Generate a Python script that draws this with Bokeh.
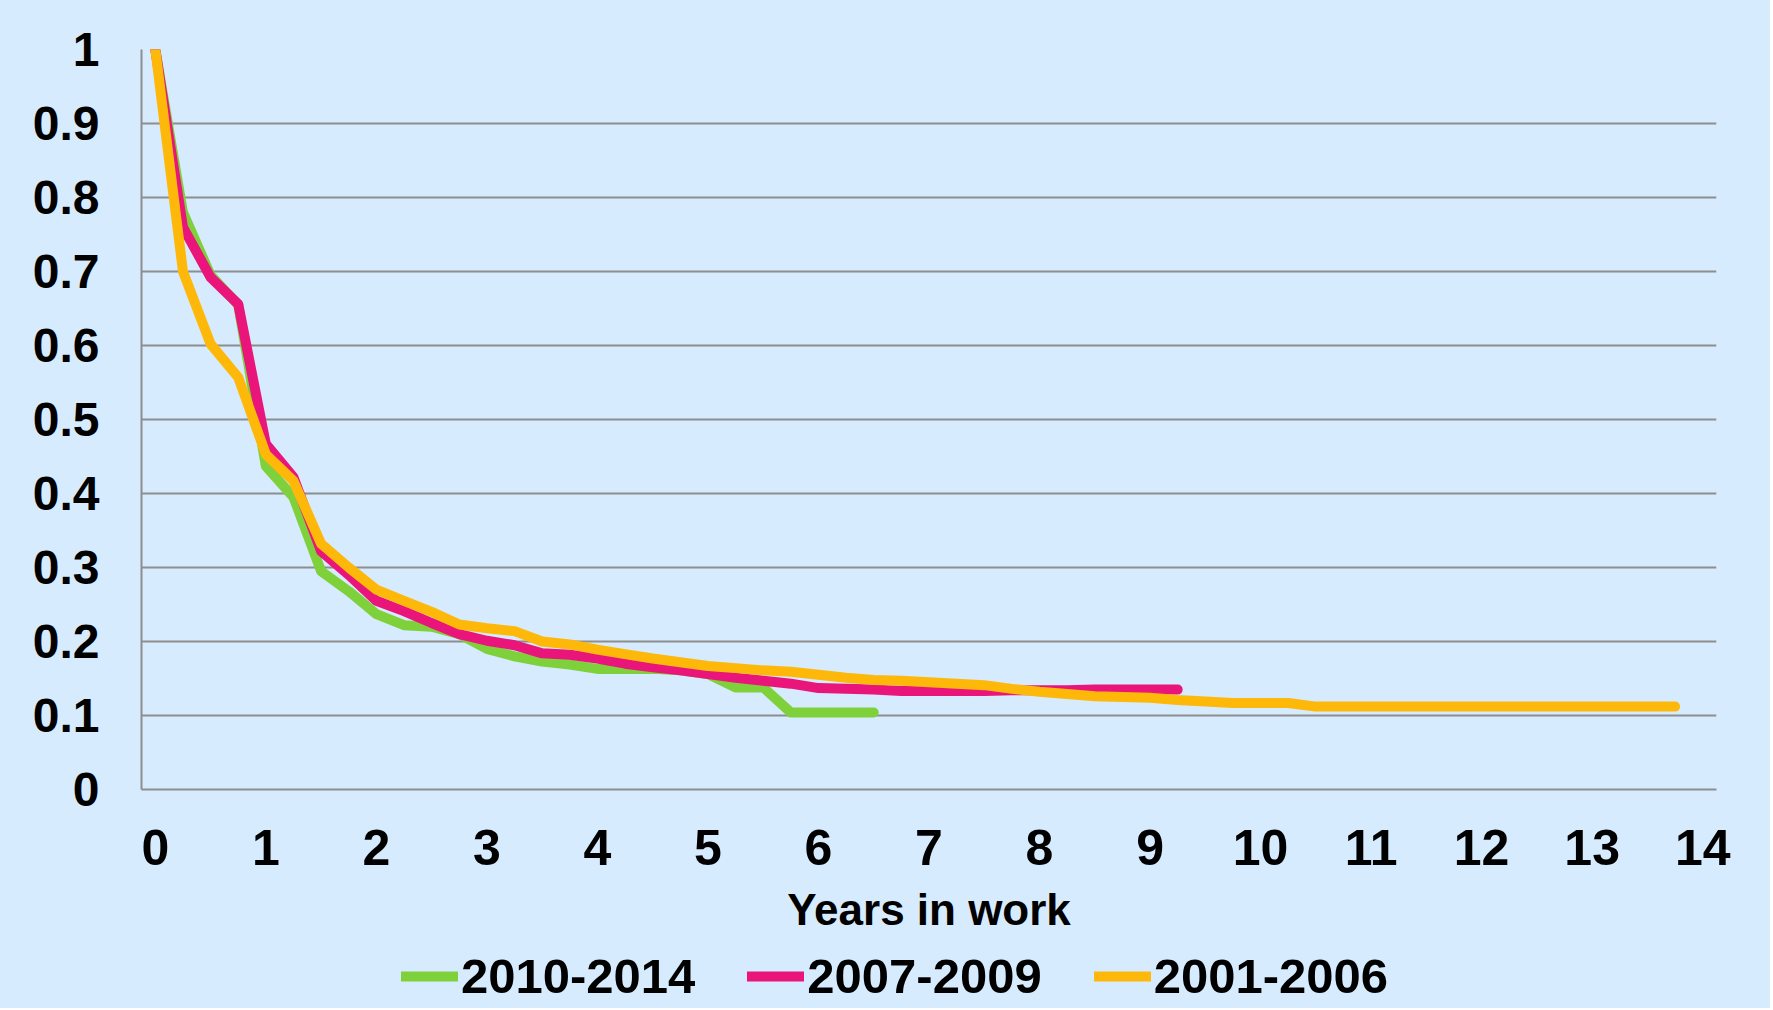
from bokeh.plotting import figure
from bokeh.models import Range1d, FixedTicker, Legend, LegendItem
from bokeh.layouts import column
from bokeh.embed import file_html
from bokeh.resources import INLINE

# ---- data ----
x_quarters = [i * 0.25 for i in range(56)]

green_2010_2014 = [1.0, 0.78, 0.695, 0.655, 0.437, 0.395, 0.295, 0.268, 0.237, 0.222,
                   0.22, 0.21, 0.19, 0.18, 0.173, 0.169, 0.163, 0.163, 0.163, 0.161,
                   0.156, 0.138, 0.138, 0.104, 0.104, 0.104, 0.104]

pink_2007_2009 = [1.0, 0.76, 0.692, 0.656, 0.467, 0.422, 0.322, 0.29, 0.255, 0.241,
                  0.225, 0.21, 0.201, 0.195, 0.184, 0.182, 0.177, 0.17, 0.165, 0.161,
                  0.156, 0.151, 0.147, 0.143, 0.137, 0.136, 0.135, 0.133, 0.133, 0.133,
                  0.133, 0.134, 0.134, 0.134, 0.135, 0.135, 0.135, 0.135]

yellow_2001_2006 = [1.0, 0.70, 0.602, 0.557, 0.453, 0.417, 0.332, 0.30, 0.27, 0.255,
                    0.24, 0.223, 0.218, 0.214, 0.200, 0.196, 0.189, 0.183, 0.177, 0.172,
                    0.167, 0.164, 0.161, 0.159, 0.155, 0.151, 0.148, 0.147, 0.145, 0.143,
                    0.141, 0.136, 0.132, 0.129, 0.126, 0.125, 0.124, 0.121, 0.119, 0.117,
                    0.117, 0.117, 0.112, 0.112, 0.112, 0.112, 0.112, 0.112, 0.112, 0.112,
                    0.112, 0.112, 0.112, 0.112, 0.112, 0.112]

series_names = ["2010-2014", "2007-2009", "2001-2006"]
series_values = [green_2010_2014, pink_2007_2009, yellow_2001_2006]
series_colors = ["#7FD13B", "#EA157A", "#FEB80A"]

x_ticks = list(range(0, 15))
y_ticks = [0, 0.1, 0.2, 0.3, 0.4, 0.5, 0.6, 0.7, 0.8, 0.9, 1.0]
y_tick_labels = ["0", "0.1", "0.2", "0.3", "0.4", "0.5", "0.6", "0.7", "0.8", "0.9", "1"]
x_title = "Years in work"

# ---- main figure ----
BG = "#D6EBFD"
GRID = "#8E8E8E"
FONT = "Liberation Sans"
W = 1770

p = figure(width=W, height=944, output_backend="svg", toolbar_location=None,
           x_range=Range1d(-0.125, 14.125), y_range=Range1d(0, 1),
           min_border_left=141, min_border_right=54, min_border_top=49,
           min_border_bottom=155)
p.background_fill_color = BG
p.border_fill_color = BG
p.outline_line_color = None

for name, vals, col in zip(series_names, series_values, series_colors):
    p.line(x_quarters[:len(vals)], vals, line_color=col, line_width=10,
           line_cap="round", line_join="round")

# grid
p.xgrid.grid_line_color = None
p.ygrid.ticker = FixedTicker(ticks=y_ticks)
p.ygrid.grid_line_color = GRID
p.ygrid.grid_line_width = 2

# axes
xa = p.xaxis[0]
xa.ticker = FixedTicker(ticks=x_ticks)
xa.axis_line_color = GRID
xa.axis_line_width = 2
xa.major_tick_line_color = None
xa.minor_tick_line_color = None
xa.major_label_text_font = FONT
xa.major_label_text_font_style = "bold"
xa.major_label_text_font_size = "50px"
xa.major_label_text_color = "black"
xa.major_label_standoff = 34
xa.axis_label = x_title
xa.axis_label_text_font = FONT
xa.axis_label_text_font_style = "bold"
xa.axis_label_text_font_size = "44px"
xa.axis_label_text_color = "black"
xa.axis_label_standoff = 17

ya = p.yaxis[0]
ya.ticker = FixedTicker(ticks=y_ticks)
ya.major_label_overrides = {t: s for t, s in zip(y_ticks, y_tick_labels)}
ya.axis_line_color = GRID
ya.axis_line_width = 2
ya.major_tick_line_color = None
ya.minor_tick_line_color = None
ya.major_label_text_font = FONT
ya.major_label_text_font_style = "bold"
ya.major_label_text_font_size = "48px"
ya.major_label_text_color = "black"
ya.major_label_standoff = 36

# ---- legend strip below the chart (same series, y range set so the lines stay out of view) ----
leg = figure(width=W, height=64, output_backend="svg", toolbar_location=None,
             x_axis_type=None, y_axis_type=None,
             x_range=Range1d(-0.125, 14.125), y_range=Range1d(5, 6),
             min_border_left=141, min_border_right=54, min_border_top=0,
             min_border_bottom=0)
leg.background_fill_alpha = 0
leg.border_fill_color = BG
leg.outline_line_color = None
leg.grid.grid_line_color = None

leg_renderers = []
for name, vals, col in zip(series_names, series_values, series_colors):
    r = leg.line(x_quarters[:len(vals)], vals, line_color=col, line_width=10,
                 line_cap="round")
    leg_renderers.append(r)

items = [LegendItem(label=n, renderers=[r]) for n, r in zip(series_names, leg_renderers)]
legend = Legend(items=items, orientation="horizontal", location="left",
                glyph_width=57, glyph_height=20, label_standoff=3, spacing=52,
                padding=0, margin=260, border_line_color=None,
                background_fill_alpha=0,
                label_text_font=FONT, label_text_font_style="bold",
                label_text_font_size="49px", label_text_color="black")
leg.add_layout(legend, "center")

layout = column(p, leg, spacing=0, styles={"background-color": BG})
open("out.html", "w").write(file_html(layout, INLINE))
